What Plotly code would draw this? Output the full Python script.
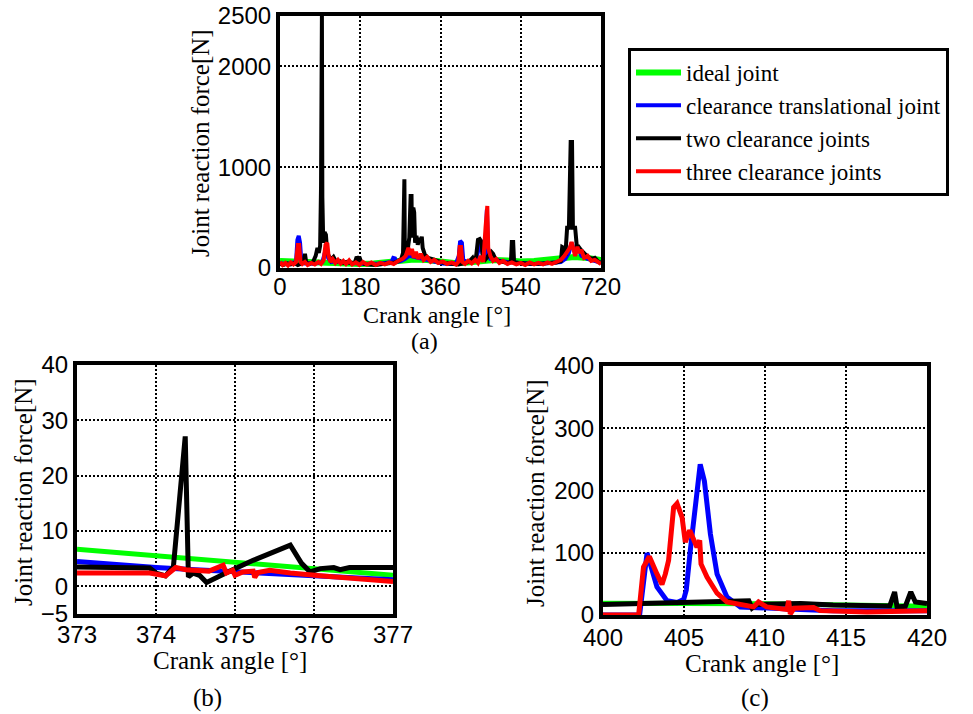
import plotly.graph_objects as go

# ---------------- (a) full cycle ----------------
a_ideal_x = [0, 30, 60, 90, 120, 150, 180, 210, 240, 270, 300, 330, 360, 390, 420, 450, 480, 510, 540, 570, 600, 630, 660, 690, 720]
a_ideal_y = [70, 65, 60, 55, 45, 40, 40, 45, 55, 70, 85, 80, 60, 50, 55, 70, 80, 75, 65, 70, 80, 95, 110, 100, 80]

a_trans_x = [0, 10, 20, 30, 36, 39, 42, 45, 48, 55, 65, 75, 85, 95, 100, 104, 108, 115, 125, 135, 145, 160, 175, 190, 205, 220, 235, 250, 254, 258, 262, 272, 280, 290, 300, 310, 320, 335, 350, 365, 380, 395, 401, 404, 408, 411, 420, 430, 440, 446, 450, 454, 460, 464, 467, 472, 480, 495, 510, 530, 550, 570, 590, 610, 630, 640, 648, 654, 658, 664, 670, 676, 690, 705, 720]
a_trans_y = [50, 40, 45, 50, 60, 280, 318, 250, 60, 45, 50, 40, 50, 60, 140, 220, 100, 60, 70, 55, 60, 50, 45, 40, 40, 45, 50, 60, 100, 95, 60, 70, 90, 120, 110, 100, 90, 70, 60, 45, 40, 50, 120, 268, 250, 80, 60, 70, 80, 200, 280, 150, 120, 580, 150, 90, 80, 70, 60, 55, 50, 40, 45, 50, 60, 90, 150, 250, 200, 160, 190, 120, 90, 70, 50]

a_two_x = [0, 8, 16, 24, 32, 40, 48, 53, 56, 59, 66, 74, 80, 84, 87, 90, 92, 93, 94, 95, 97, 100, 103, 106, 110, 114, 120, 126, 134, 142, 150, 160, 168, 172, 175, 178, 182, 190, 200, 215, 230, 245, 258, 266, 272, 276, 277, 279, 280, 284, 287, 290, 293, 295, 296, 299, 301, 303, 306, 309, 312, 315, 318, 320, 325, 332, 340, 350, 360, 370, 380, 390, 400, 410, 420, 428, 432, 436, 440, 444, 448, 452, 455, 460, 466, 470, 474, 478, 483, 490, 500, 510, 518, 520, 523, 525, 535, 550, 570, 590, 605, 620, 630, 633, 636, 640, 644, 648, 652, 655, 657, 662, 666, 670, 675, 680, 686, 692, 700, 706, 712, 720]
a_two_y = [40, 30, 45, 35, 50, 30, 45, 60, 140, 50, 40, 60, 120, 200, 150, 220, 800, 2500, 2500, 700, 250, 357, 330, 150, 120, 80, 110, 60, 70, 50, 60, 45, 55, 110, 90, 110, 60, 40, 35, 30, 40, 45, 55, 70, 90, 150, 880, 880, 150, 260, 200, 300, 714, 714, 300, 600, 550, 250, 320, 230, 300, 250, 310, 200, 130, 100, 90, 70, 60, 50, 45, 40, 35, 45, 55, 80, 100, 60, 120, 280, 288, 260, 100, 80, 120, 150, 160, 140, 90, 70, 60, 50, 60, 258, 258, 60, 50, 45, 40, 45, 50, 55, 70, 208, 200, 120, 400, 400, 1250, 1250, 400, 400, 200, 210, 180, 150, 130, 110, 90, 100, 70, 50]

a_three_x = [0, 6, 12, 18, 24, 30, 36, 40, 43, 46, 50, 56, 62, 70, 78, 86, 92, 98, 102, 106, 109, 113, 118, 124, 130, 136, 142, 148, 155, 162, 170, 178, 186, 195, 205, 215, 225, 235, 245, 255, 265, 275, 282, 288, 292, 296, 300, 305, 310, 316, 322, 330, 338, 346, 355, 365, 375, 385, 395, 400, 403, 406, 409, 415, 422, 430, 438, 444, 450, 456, 461, 463, 465, 467, 472, 478, 485, 492, 500, 510, 520, 530, 540, 550, 560, 570, 580, 590, 600, 610, 620, 630, 638, 644, 650, 654, 657, 662, 667, 671, 676, 682, 690, 698, 706, 714, 720]
a_three_y = [60, 30, 50, 25, 55, 35, 60, 228, 228, 60, 40, 60, 30, 50, 35, 60, 40, 80, 230, 248, 120, 60, 90, 50, 80, 45, 70, 40, 75, 35, 55, 30, 60, 35, 55, 30, 50, 35, 55, 40, 70, 90, 120, 200, 130, 190, 100, 160, 90, 140, 80, 110, 60, 80, 50, 65, 40, 55, 35, 60, 208, 208, 60, 40, 70, 45, 80, 50, 120, 60, 400, 615, 615, 200, 120, 70, 90, 50, 70, 40, 55, 35, 50, 30, 55, 35, 50, 35, 55, 40, 60, 80, 120, 160, 200, 258, 200, 120, 210, 150, 180, 100, 120, 70, 80, 50, 40]

# ---------------- (b) zoom 373-377 ----------------
b_ideal_x = [373, 377]
b_ideal_y = [6.7, 2.0]
b_trans_x = [373, 373.5, 374, 374.5, 375, 375.5, 376, 376.5, 377]
b_trans_y = [4.5, 3.9, 3.4, 3.0, 2.6, 2.2, 1.8, 1.5, 1.2]
b_two_x = [373, 373.92, 374.0, 374.12, 374.22, 374.37, 374.41, 374.47, 374.55, 374.64, 374.97, 375.23, 375.70, 375.84, 375.95, 376.08, 376.25, 376.33, 376.45, 377]
b_two_y = [3.5, 3.3, 2.4, 1.9, 3.5, 27.1, 1.7, 2.4, 2.0, 0.7, 3.0, 4.7, 7.45, 4.2, 2.6, 3.2, 3.4, 3.0, 3.4, 3.4]
b_three_x = [373, 373.92, 374.12, 374.25, 374.38, 374.55, 374.67, 374.85, 374.89, 374.97, 375.0, 375.1, 375.23, 375.25, 375.29, 375.44, 375.70, 376.08, 376.46, 377]
b_three_y = [2.4, 2.4, 1.9, 3.4, 3.0, 2.9, 2.75, 3.8, 2.4, 2.9, 2.0, 2.6, 2.75, 1.6, 2.5, 2.9, 2.4, 1.9, 1.45, 0.85]

# ---------------- (c) zoom 400-420 ----------------
c_ideal_x = [400, 410, 420]
c_ideal_y = [19, 18, 14]
c_trans_x = [400, 402.26, 402.72, 403.33, 403.95, 404.57, 404.98, 405.14, 405.39, 405.7, 406.0, 406.26, 406.63, 407.04, 407.65, 408.48, 410.1, 412.2, 414.2, 416.3, 420]
c_trans_y = [0, 0, 99.5, 45, 23, 20, 25, 40, 104, 183, 242, 215, 130, 66, 29, 13, 10.6, 9, 7, 7, 7]
c_two_x = [400, 401.9, 406, 409, 409.2, 409.5, 412.2, 414.2, 417.7, 418.0, 418.15, 418.66, 419.0, 419.28, 420]
c_two_y = [17, 18.6, 21, 23, 11, 17, 18.6, 16, 14.4, 37, 13, 14, 37, 21, 18.6]
c_three_x = [400, 402.2, 402.5, 402.86, 403.33, 403.64, 403.85, 404.05, 404.36, 404.57, 404.88, 405.08, 405.35, 405.6, 405.8, 405.97, 406.05, 406.42, 407.04, 407.65, 408.48, 409.3, 409.6, 410.1, 411.36, 411.46, 411.56, 411.8, 413.0, 413.4, 416.3, 420]
c_three_y = [0, 0, 77, 94, 66, 49, 66, 88, 173, 179, 157, 117, 136, 120, 109, 120, 82, 61, 35, 21, 16, 13, 21, 13, 9, 23, 1.6, 11, 12, 7, 5, 7]

names = ["ideal joint", "clearance translational joint", "two clearance joints", "three clearance joints"]
colors = ["#00ff00", "#0000ff", "#000000", "#ff0000"]

W, H = 973, 714
SERIF = "Liberation Serif, Times New Roman, serif"
SANS = "Liberation Sans, Arial, sans-serif"

fig = go.Figure()

panels = [
    ("x", "y", [(a_ideal_x, a_ideal_y), (a_trans_x, a_trans_y), (a_two_x, a_two_y), (a_three_x, a_three_y)], [6, 4, 4, 4], True),
    ("x2", "y2", [(b_ideal_x, b_ideal_y), (b_trans_x, b_trans_y), (b_two_x, b_two_y), (b_three_x, b_three_y)], [5, 5, 5, 5], False),
    ("x3", "y3", [(c_ideal_x, c_ideal_y), (c_trans_x, c_trans_y), (c_two_x, c_two_y), (c_three_x, c_three_y)], [5, 5, 5, 5], False),
]
for xa, ya, series, widths, show in panels:
    for i, (xs, ys) in enumerate(series):
        fig.add_trace(go.Scatter(x=xs, y=ys, mode="lines", name=names[i],
                                 line=dict(color=colors[i], width=widths[i]),
                                 xaxis=xa, yaxis=ya, showlegend=show))

def px_dom(a, b):
    return [a / W, b / W]

def py_dom(top, bottom):
    return [1 - bottom / H, 1 - top / H]

axis_common = dict(showline=True, linecolor="black", linewidth=4, mirror=True,
                   showgrid=True, gridcolor="black", gridwidth=2, griddash="2px,2px",
                   zeroline=False, ticks="", automargin=False,
                   tickfont=dict(family=SANS, size=24, color="black"))

fig.update_layout(
    width=W, height=H, margin=dict(l=0, r=0, t=0, b=0, pad=0, autoexpand=False),
    paper_bgcolor="white", plot_bgcolor="white",
    xaxis=dict(domain=px_dom(280, 601), range=[0, 720], tickvals=[0, 180, 360, 540, 720], anchor="y", ticklabelstandoff=-6, **axis_common),
    yaxis=dict(domain=py_dom(16, 268), range=[0, 2500], tickvals=[0, 1000, 2000, 2500], anchor="x", **axis_common),
    xaxis2=dict(domain=px_dom(77, 393), range=[373, 377], tickvals=[373, 374, 375, 376, 377], anchor="y2", ticklabelstandoff=-4, **axis_common),
    yaxis2=dict(domain=py_dom(365, 614), range=[-5, 40], tickvals=[-5, 0, 10, 20, 30, 40], anchor="x2", **axis_common),
    xaxis3=dict(domain=px_dom(603, 927), range=[400, 420], tickvals=[400, 405, 410, 415, 420], anchor="y3", ticklabelstandoff=-2, **axis_common),
    yaxis3=dict(domain=py_dom(366, 615), range=[0, 400], tickvals=[0, 100, 200, 300, 400], anchor="x3", **axis_common),
    legend=dict(x=628 / W, y=1 - 48 / H, xanchor="left", yanchor="top",
                bordercolor="black", borderwidth=3, bgcolor="white",
                font=dict(family=SERIF, size=23, color="black"),
                tracegroupgap=0, itemwidth=45),
    showlegend=True,
)

def ann(text, x, y, angle=0, size=25):
    fig.add_annotation(text=text, x=x / W, y=1 - y / H, xref="paper", yref="paper",
                       showarrow=False, textangle=angle, xanchor="center", yanchor="middle",
                       font=dict(family=SERIF, size=size, color="black"))

ann("Joint reaction force[N]", 201, 143, -90)
ann("Crank angle [°]", 437, 315, size=24)
ann("(a)", 424, 341, size=24)
ann("Joint reaction force[N]", 23, 492, -90)
ann("Crank angle [°]", 230, 660)
ann("(b)", 207, 698)
ann("Joint reaction force[N]", 535, 493, -90)
ann("Crank angle [°]", 762, 663)
ann("(c)", 755, 698)

fig.write_html("out.html")
